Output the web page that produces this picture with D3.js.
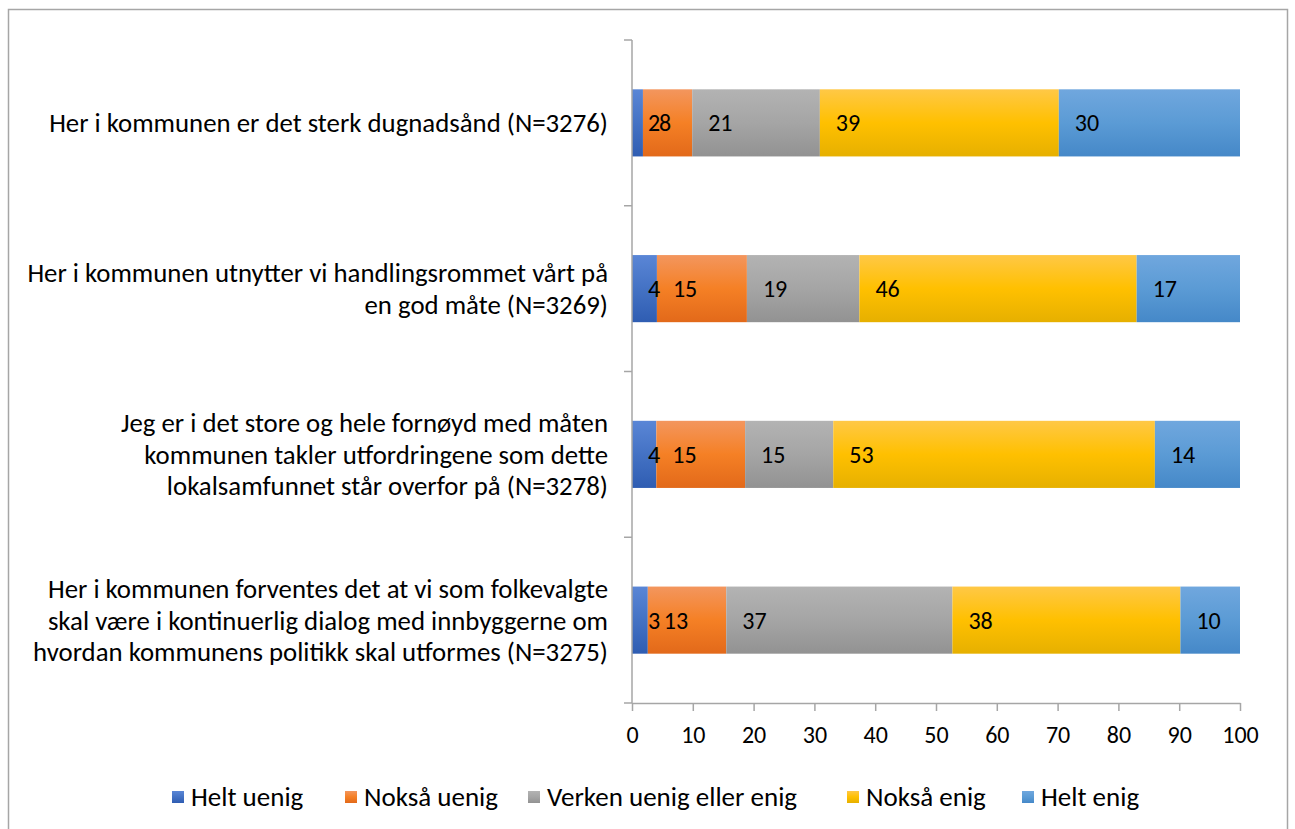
<!DOCTYPE html>
<html>
<head>
<meta charset="utf-8">
<style>
  body { margin: 0; background: #fff; }
  svg { font-family: Carlito, Calibri, Lato, sans-serif; }
</style>
</head>
<body>
<svg width="1295" height="829"></svg>
<script src="https://d3js.org/d3.v7.min.js"></script>
<script>

var categories = [
  ["Her i kommunen er det sterk dugnadsånd (N=3276)"],
  ["Her i kommunen utnytter vi handlingsrommet vårt på", "en god måte (N=3269)"],
  ["Jeg er i det store og hele fornøyd med måten", "kommunen takler utfordringene som dette", "lokalsamfunnet står overfor på (N=3278)"],
  ["Her i kommunen forventes det at vi som folkevalgte", "skal være i kontinuerlig dialog med innbyggerne om", "hvordan kommunens politikk skal utformes (N=3275)"]
];

var seriesNames = ["Helt uenig", "Nokså uenig", "Verken uenig eller enig", "Nokså enig", "Helt enig"];

// one array per series, same order as categories
var heltUenig   = [1.8, 4.1, 4.0, 2.6];
var noksaUenig  = [8.1, 14.8, 14.6, 12.9];
var verken      = [21.0, 18.5, 14.5, 37.2];
var noksaEnig   = [39.3, 45.6, 52.9, 37.5];
var heltEnig    = [29.8, 17.0, 14.0, 9.8];

var xTicks = [0, 10, 20, 30, 40, 50, 60, 70, 80, 90, 100];

var colors = [
  ["#5a86d6", "#4472c4", "#2f5db2"],
  ["#f3965e", "#f58025", "#e2691a"],
  ["#b3b3b3", "#a5a5a5", "#929292"],
  ["#ffc846", "#ffc000", "#e6b000"],
  ["#70a7de", "#5b9bd5", "#4588c8"]
];

var svg = d3.select("svg");

// outer frame
svg.append("rect")
  .attr("x", 8.5).attr("y", 9.5)
  .attr("width", 1279).attr("height", 830)
  .attr("fill", "none")
  .attr("stroke", "#a6a6a6")
  .attr("stroke-width", 1.5);

var defs = svg.append("defs");
colors.forEach(function(c, i) {
  var gr = defs.append("linearGradient")
    .attr("id", "grad" + i)
    .attr("x1", 0).attr("y1", 0).attr("x2", 0).attr("y2", 1);
  gr.append("stop").attr("offset", "0%").attr("stop-color", c[0]);
  gr.append("stop").attr("offset", "50%").attr("stop-color", c[1]);
  gr.append("stop").attr("offset", "100%").attr("stop-color", c[2]);
});

var pLeft = 632, pRight = 1240, pTop = 40, pBottom = 703;

var x = d3.scaleLinear().domain([0, 100]).range([pLeft, pRight]);
var y = d3.scaleBand().domain(d3.range(categories.length)).range([pTop, pBottom]).paddingInner(0.595).paddingOuter(0.2975);

var table = categories.map(function(c, i) {
  return {
    "Helt uenig": heltUenig[i],
    "Nokså uenig": noksaUenig[i],
    "Verken uenig eller enig": verken[i],
    "Nokså enig": noksaEnig[i],
    "Helt enig": heltEnig[i],
    idx: i
  };
});

var stack = d3.stack().keys(seriesNames)(table);

var layers = svg.append("g").selectAll("g")
  .data(stack)
  .join("g")
  .attr("fill", function(d, i) { return "url(#grad" + i + ")"; });

layers.selectAll("rect")
  .data(function(d) { return d; })
  .join("rect")
  .attr("x", function(d) { return x(d[0]); })
  .attr("y", function(d) { return y(d.data.idx); })
  .attr("width", function(d) { return x(d[1]) - x(d[0]); })
  .attr("height", y.bandwidth());

// value labels, Excel "inside base"
var labels = svg.append("g");
stack.forEach(function(s) {
  labels.selectAll(null)
    .data(s)
    .join("text")
    .attr("x", function(d) { return x(d[0]) + 16; })
    .attr("y", function(d) { return y(d.data.idx) + y.bandwidth() / 2; })
    .attr("dy", "0.35em")
    .attr("font-size", 24)
    .attr("fill", "#000")
    .text(function(d) { return Math.round(d[1] - d[0]); });
});

// x axis
var xAxis = svg.append("g")
  .attr("transform", "translate(0," + pBottom + ")")
  .call(d3.axisBottom(x).tickValues(xTicks).tickSize(8).tickPadding(15).tickSizeOuter(0));
xAxis.select(".domain").attr("stroke", "#a6a6a6").attr("stroke-width", 1.5);
xAxis.selectAll(".tick line").attr("stroke", "#a6a6a6").attr("stroke-width", 1.5);
xAxis.selectAll(".tick text").attr("font-size", 24).attr("font-family", "Carlito, Calibri, Lato, sans-serif").attr("fill", "#000");

// y axis line and tick marks at band edges
var yEdges = d3.range(categories.length + 1).map(function(i) { return pTop + i * (pBottom - pTop) / categories.length; });
svg.append("line")
  .attr("x1", pLeft).attr("x2", pLeft)
  .attr("y1", pTop).attr("y2", pBottom)
  .attr("stroke", "#a6a6a6").attr("stroke-width", 1.5);
svg.append("g").selectAll("line")
  .data(yEdges)
  .join("line")
  .attr("x1", pLeft - 8).attr("x2", pLeft)
  .attr("y1", function(d) { return d; }).attr("y2", function(d) { return d; })
  .attr("stroke", "#a6a6a6").attr("stroke-width", 1.5);

// category labels
var lineH = 31.5;
var catG = svg.append("g");
categories.forEach(function(lines, i) {
  var cy = y(i) + y.bandwidth() / 2;
  var t = catG.append("text")
    .attr("text-anchor", "end")
    .attr("font-size", 26.8)
    .attr("fill", "#000");
  lines.forEach(function(l, j) {
    t.append("tspan")
      .attr("x", 608)
      .attr("y", cy + (j - (lines.length - 1) / 2) * lineH)
      .attr("dy", "0.35em")
      .text(l);
  });
});

// legend
var legendX = [172, 345, 528, 847, 1022];
var leg = svg.append("g");
seriesNames.forEach(function(n, i) {
  leg.append("rect")
    .attr("x", legendX[i]).attr("y", 791)
    .attr("width", 12).attr("height", 12)
    .attr("fill", "url(#grad" + i + ")");
  leg.append("text")
    .attr("x", legendX[i] + 19).attr("y", 797)
    .attr("dy", "0.35em")
    .attr("font-size", 27)
    .attr("fill", "#000")
    .text(n);
});

</script>
</body>
</html>
